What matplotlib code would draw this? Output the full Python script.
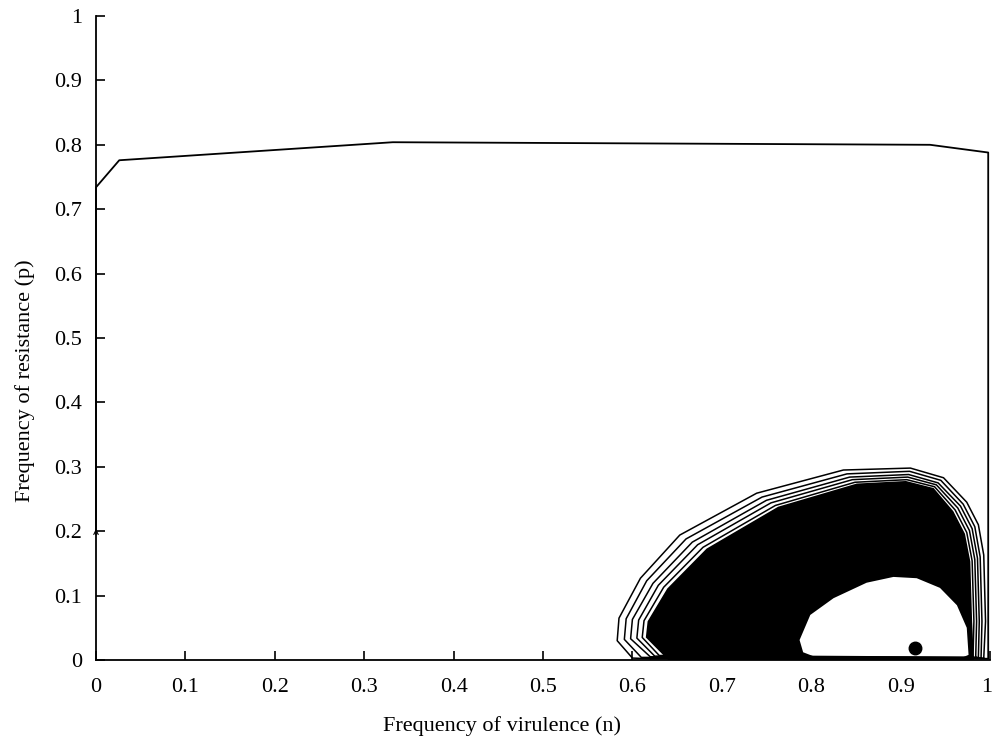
import matplotlib
matplotlib.use("Agg")
import matplotlib.pyplot as plt
from matplotlib.transforms import ScaledTranslation

# ---- data ----
x_ticks = [0, 0.1, 0.2, 0.3, 0.4, 0.5, 0.6, 0.7, 0.8, 0.9, 1]
y_ticks = [0, 0.1, 0.2, 0.3, 0.4, 0.5, 0.6, 0.7, 0.8, 0.9, 1]
x_tick_labels = ["0", "0.1", "0.2", "0.3", "0.4", "0.5", "0.6", "0.7", "0.8", "0.9", "1"]
y_tick_labels = ["0", "0.1", "0.2", "0.3", "0.4", "0.5", "0.6", "0.7", "0.8", "0.9", "1"]

# initial part of the trajectory
start_n = [0.0, 0.0, 0.026, 0.332, 0.933, 0.998, 0.998, 0.62]
start_p = [0.2, 0.734, 0.776, 0.804, 0.800, 0.788, 0.002, 0.002]

# outer spiral loops
loop1_n = [0.62, 0.60, 0.583, 0.585, 0.609, 0.653, 0.739, 0.836, 0.911, 0.948, 0.974, 0.987, 0.993, 0.995, 0.993]
loop1_p = [0.002, 0.003, 0.030, 0.065, 0.127, 0.194, 0.259, 0.295, 0.298, 0.283, 0.245, 0.210, 0.163, 0.060, 0.003]
loop2_n = [0.993, 0.61, 0.591, 0.593, 0.616, 0.660, 0.745, 0.840, 0.910, 0.945, 0.970, 0.983, 0.989, 0.991, 0.990]
loop2_p = [0.003, 0.004, 0.032, 0.064, 0.123, 0.188, 0.253, 0.289, 0.293, 0.279, 0.242, 0.207, 0.160, 0.060, 0.003]
loop3_n = [0.990, 0.62, 0.598, 0.600, 0.623, 0.667, 0.750, 0.843, 0.909, 0.942, 0.967, 0.980, 0.986, 0.988, 0.987]
loop3_p = [0.003, 0.005, 0.033, 0.063, 0.119, 0.183, 0.248, 0.284, 0.288, 0.275, 0.239, 0.204, 0.158, 0.060, 0.004]
loop4_n = [0.987, 0.625, 0.605, 0.607, 0.629, 0.673, 0.755, 0.846, 0.908, 0.940, 0.964, 0.977, 0.983, 0.985, 0.984]
loop4_p = [0.004, 0.006, 0.034, 0.062, 0.116, 0.179, 0.244, 0.280, 0.284, 0.272, 0.236, 0.201, 0.156, 0.060, 0.004]
loop5_n = [0.984, 0.63, 0.611, 0.613, 0.635, 0.679, 0.760, 0.849, 0.907, 0.938, 0.961, 0.974, 0.980, 0.982, 0.981]
loop5_p = [0.004, 0.007, 0.035, 0.061, 0.113, 0.175, 0.240, 0.276, 0.280, 0.269, 0.233, 0.198, 0.154, 0.060, 0.005]

# densely wound part of the spiral (outer boundary) and the empty core
dense_n = [0.982, 0.64, 0.615, 0.617, 0.639, 0.683, 0.763, 0.851, 0.906, 0.937, 0.959, 0.972, 0.978, 0.980, 0.982]
dense_p = [0.0, 0.0, 0.035, 0.060, 0.111, 0.173, 0.238, 0.274, 0.278, 0.267, 0.231, 0.196, 0.153, 0.060, 0.0]
hole_n = [0.787, 0.799, 0.825, 0.862, 0.892, 0.918, 0.944, 0.963, 0.974, 0.976, 0.966, 0.806, 0.791]
hole_p = [0.031, 0.070, 0.096, 0.120, 0.129, 0.127, 0.112, 0.085, 0.050, 0.008, 0.002, 0.004, 0.012]

# equilibrium point
eq_n = [0.916]
eq_p = [0.019]

# ---- plot ----
plt.rcParams["font.family"] = ["Liberation Serif", "DejaVu Serif"]
fig = plt.figure(figsize=(9.93, 7.42), dpi=100)
ax = fig.add_axes([96 / 993, 1 - 660 / 742, (990 - 96) / 993, (660 - 16) / 742])

ax.fill(dense_n, dense_p, color="black", lw=0, zorder=2)
ax.fill(hole_n, hole_p, color="white", lw=0, zorder=3)
for ln, lp in [(loop1_n, loop1_p), (loop2_n, loop2_p), (loop3_n, loop3_p),
               (loop4_n, loop4_p), (loop5_n, loop5_p)]:
    ax.plot(ln, lp, color="black", lw=1.1, zorder=4, clip_on=False)
ax.plot(start_n, start_p, color="black", lw=1.3, zorder=4, clip_on=False)
ax.plot(eq_n, eq_p, "o", color="black", ms=9, zorder=5)
ax.annotate("", xy=(start_n[0], start_p[0] + 0.008), xytext=(start_n[0], start_p[0] - 0.01),
            arrowprops=dict(arrowstyle="->", color="black", lw=0.8, mutation_scale=8),
            annotation_clip=False, zorder=6)

ax.set_xlim(0, 1)
ax.set_ylim(0, 1)
ax.set_xticks(x_ticks)
ax.set_xticklabels(x_tick_labels)
ax.set_yticks(y_ticks)
ax.set_yticklabels(y_tick_labels)
for s in ["top", "right"]:
    ax.spines[s].set_visible(False)
for s in ["left", "bottom"]:
    ax.spines[s].set_linewidth(1.3)
ax.tick_params(direction="in", length=6.5, width=1.2, labelsize=16)
ax.tick_params(axis="x", pad=13)
ax.tick_params(axis="y", pad=10)
last = ax.get_xticklabels()[-1]
last.set_transform(last.get_transform() + ScaledTranslation(-3 / 100, 0, fig.dpi_scale_trans))

fig.text(502 / 993, 1 - 726 / 742, "Frequency of virulence (n)", ha="center", va="center", fontsize=16)
fig.text(25 / 993, 1 - 381 / 742, "Frequency of resistance (p)", ha="center", va="center",
         rotation=90, fontsize=16)

fig.savefig("out.png", dpi=100)
